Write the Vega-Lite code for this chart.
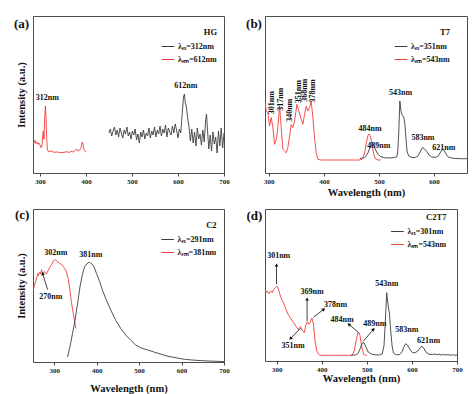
{
"$schema": "https://vega.github.io/schema/vega-lite/v6.json",
"padding": {"left": 13, "top": 15, "right": 0, "bottom": 0},
"background": "white",
"columns": 2,
"spacing": {"row": 36, "column": 41},
"bounds": "flush",
"resolve": {"scale": {"color": "independent"}, "legend": {"color": "independent"}},
"config": {
 "font": "Liberation Serif",
 "view": {"stroke": "#4d4d4d", "strokeWidth": 1},
 "axis": {"grid": false, "domain": false, "labelOverlap": false, "labelFlush": false, "labelFont": "Liberation Serif", "labelFontWeight": "bold", "labelFontSize": 7, "labelColor": "#222", "tickColor": "#444", "tickSize": 3, "labelPadding": 1, "titleFont": "Liberation Serif", "titleFontWeight": "bold", "titleFontSize": 10.5, "titleColor": "#111"},
 "axisY": {"labels": false, "ticks": false},
 "legend": {"orient": "none", "symbolType": "stroke", "symbolSize": 160, "symbolStrokeWidth": 1, "labelFont": "Liberation Serif", "labelFontWeight": "bold", "labelFontSize": 8, "labelColor": "#111", "titleFont": "Liberation Serif", "titleFontWeight": "bold", "titleFontSize": 8.5, "titleColor": "#111", "titleAnchor": "end", "titleAlign": "right", "padding": 0, "rowPadding": 2, "titlePadding": 3, "labelOffset": 3},
 "text": {"font": "Liberation Serif", "fontWeight": "bold", "fontSize": 8, "color": "#111"}
},
"datasets": {
 "aL": [
  {"w":450,"i":40,"s":"λₑₓ=312nm"},{"w":453,"i":44,"s":"λₑₓ=312nm"},{"w":456,"i":37,"s":"λₑₓ=312nm"},{"w":459,"i":42,"s":"λₑₓ=312nm"},{"w":462,"i":46,"s":"λₑₓ=312nm"},{"w":465,"i":38,"s":"λₑₓ=312nm"},{"w":468,"i":43,"s":"λₑₓ=312nm"},{"w":471,"i":36,"s":"λₑₓ=312nm"},{"w":474,"i":45,"s":"λₑₓ=312nm"},{"w":477,"i":40,"s":"λₑₓ=312nm"},{"w":480,"i":35,"s":"λₑₓ=312nm"},{"w":483,"i":43,"s":"λₑₓ=312nm"},{"w":486,"i":39,"s":"λₑₓ=312nm"},{"w":489,"i":46,"s":"λₑₓ=312nm"},{"w":492,"i":37,"s":"λₑₓ=312nm"},{"w":495,"i":41,"s":"λₑₓ=312nm"},{"w":498,"i":34,"s":"λₑₓ=312nm"},{"w":501,"i":42,"s":"λₑₓ=312nm"},{"w":504,"i":38,"s":"λₑₓ=312nm"},{"w":507,"i":44,"s":"λₑₓ=312nm"},{"w":510,"i":33,"s":"λₑₓ=312nm"},{"w":513,"i":39,"s":"λₑₓ=312nm"},{"w":516,"i":30,"s":"λₑₓ=312nm"},{"w":519,"i":41,"s":"λₑₓ=312nm"},{"w":522,"i":36,"s":"λₑₓ=312nm"},{"w":525,"i":43,"s":"λₑₓ=312nm"},{"w":528,"i":34,"s":"λₑₓ=312nm"},{"w":531,"i":40,"s":"λₑₓ=312nm"},{"w":534,"i":37,"s":"λₑₓ=312nm"},{"w":537,"i":45,"s":"λₑₓ=312nm"},{"w":540,"i":35,"s":"λₑₓ=312nm"},{"w":543,"i":42,"s":"λₑₓ=312nm"},{"w":546,"i":38,"s":"λₑₓ=312nm"},{"w":549,"i":46,"s":"λₑₓ=312nm"},{"w":552,"i":36,"s":"λₑₓ=312nm"},{"w":555,"i":43,"s":"λₑₓ=312nm"},{"w":558,"i":39,"s":"λₑₓ=312nm"},{"w":561,"i":47,"s":"λₑₓ=312nm"},{"w":564,"i":37,"s":"λₑₓ=312nm"},{"w":567,"i":44,"s":"λₑₓ=312nm"},{"w":570,"i":40,"s":"λₑₓ=312nm"},{"w":573,"i":48,"s":"λₑₓ=312nm"},{"w":576,"i":36,"s":"λₑₓ=312nm"},{"w":579,"i":45,"s":"λₑₓ=312nm"},{"w":582,"i":41,"s":"λₑₓ=312nm"},{"w":585,"i":38,"s":"λₑₓ=312nm"},{"w":588,"i":47,"s":"λₑₓ=312nm"},{"w":591,"i":40,"s":"λₑₓ=312nm"},{"w":594,"i":49,"s":"λₑₓ=312nm"},{"w":597,"i":43,"s":"λₑₓ=312nm"},{"w":600,"i":35,"s":"λₑₓ=312nm"},{"w":603,"i":44,"s":"λₑₓ=312nm"},{"w":606,"i":40,"s":"λₑₓ=312nm"},{"w":609,"i":58,"s":"λₑₓ=312nm"},{"w":612,"i":76,"s":"λₑₓ=312nm"},{"w":614,"i":79,"s":"λₑₓ=312nm"},{"w":616,"i":70,"s":"λₑₓ=312nm"},{"w":618,"i":67,"s":"λₑₓ=312nm"},{"w":621,"i":55,"s":"λₑₓ=312nm"},{"w":624,"i":46,"s":"λₑₓ=312nm"},{"w":627,"i":32,"s":"λₑₓ=312nm"},{"w":630,"i":44,"s":"λₑₓ=312nm"},{"w":633,"i":30,"s":"λₑₓ=312nm"},{"w":636,"i":41,"s":"λₑₓ=312nm"},{"w":639,"i":27,"s":"λₑₓ=312nm"},{"w":642,"i":45,"s":"λₑₓ=312nm"},{"w":645,"i":34,"s":"λₑₓ=312nm"},{"w":648,"i":39,"s":"λₑₓ=312nm"},{"w":651,"i":28,"s":"λₑₓ=312nm"},{"w":654,"i":43,"s":"λₑₓ=312nm"},{"w":657,"i":31,"s":"λₑₓ=312nm"},{"w":660,"i":52,"s":"λₑₓ=312nm"},{"w":662,"i":59,"s":"λₑₓ=312nm"},{"w":664,"i":44,"s":"λₑₓ=312nm"},{"w":667,"i":24,"s":"λₑₓ=312nm"},{"w":670,"i":38,"s":"λₑₓ=312nm"},{"w":673,"i":22,"s":"λₑₓ=312nm"},{"w":676,"i":41,"s":"λₑₓ=312nm"},{"w":679,"i":29,"s":"λₑₓ=312nm"},{"w":682,"i":36,"s":"λₑₓ=312nm"},{"w":685,"i":20,"s":"λₑₓ=312nm"},{"w":688,"i":42,"s":"λₑₓ=312nm"},{"w":691,"i":27,"s":"λₑₓ=312nm"},{"w":694,"i":45,"s":"λₑₓ=312nm"},{"w":697,"i":25,"s":"λₑₓ=312nm"},{"w":700,"i":40,"s":"λₑₓ=312nm"},
  {"w":285,"i":32,"s":"λₑₘ=612nm"},{"w":287.2,"i":30.3,"s":"λₑₘ=612nm"},{"w":289.3,"i":32.7,"s":"λₑₘ=612nm"},{"w":291.5,"i":29.3,"s":"λₑₘ=612nm"},{"w":293.7,"i":31,"s":"λₑₘ=612nm"},{"w":295.9,"i":28.7,"s":"λₑₘ=612nm"},{"w":298,"i":30,"s":"λₑₘ=612nm"},{"w":300.2,"i":28,"s":"λₑₘ=612nm"},{"w":302.4,"i":25.3,"s":"λₑₘ=612nm"},{"w":304.6,"i":27,"s":"λₑₘ=612nm"},{"w":306,"i":37,"s":"λₑₘ=612nm"},{"w":307.5,"i":42,"s":"λₑₘ=612nm"},{"w":308.9,"i":33.7,"s":"λₑₘ=612nm"},{"w":310.4,"i":55.3,"s":"λₑₘ=612nm"},{"w":311.8,"i":67,"s":"λₑₘ=612nm"},{"w":313.3,"i":55.3,"s":"λₑₘ=612nm"},{"w":314.7,"i":35.3,"s":"λₑₘ=612nm"},{"w":316.2,"i":23.7,"s":"λₑₘ=612nm"},{"w":318.3,"i":21.3,"s":"λₑₘ=612nm"},{"w":323.4,"i":22,"s":"λₑₘ=612nm"},{"w":330.6,"i":20.7,"s":"λₑₘ=612nm"},{"w":337.9,"i":21,"s":"λₑₘ=612nm"},{"w":345.1,"i":20.3,"s":"λₑₘ=612nm"},{"w":352.4,"i":20.7,"s":"λₑₘ=612nm"},{"w":359.6,"i":21.3,"s":"λₑₘ=612nm"},{"w":363.3,"i":20.3,"s":"λₑₘ=612nm"},{"w":366.9,"i":21.7,"s":"λₑₘ=612nm"},{"w":372,"i":21,"s":"λₑₘ=612nm"},{"w":376.3,"i":22.7,"s":"λₑₘ=612nm"},{"w":380,"i":23.7,"s":"λₑₘ=612nm"},{"w":382.9,"i":22,"s":"λₑₘ=612nm"},{"w":386.5,"i":23,"s":"λₑₘ=612nm"},{"w":389.4,"i":25.3,"s":"λₑₘ=612nm"},{"w":391.6,"i":31,"s":"λₑₘ=612nm"},{"w":393.8,"i":28.7,"s":"λₑₘ=612nm"},{"w":396,"i":22.7,"s":"λₑₘ=612nm"},{"w":398.9,"i":21.3,"s":"λₑₘ=612nm"},{"w":401,"i":22,"s":"λₑₘ=612nm"}
 ],
 "aT": [{"w":316,"i":75,"t":"312nm"},{"w":617,"i":87,"t":"612nm"}],
 "bL": [
  {"w":465,"i":14.5,"s":"λₑₓ=351nm"},{"w":472,"i":15,"s":"λₑₓ=351nm"},{"w":476,"i":16.5,"s":"λₑₓ=351nm"},{"w":480,"i":20,"s":"λₑₓ=351nm"},{"w":484,"i":26,"s":"λₑₓ=351nm"},{"w":488,"i":29,"s":"λₑₓ=351nm"},{"w":491,"i":27.5,"s":"λₑₓ=351nm"},{"w":494,"i":23,"s":"λₑₓ=351nm"},{"w":498,"i":19,"s":"λₑₓ=351nm"},{"w":503,"i":16.5,"s":"λₑₓ=351nm"},{"w":510,"i":15.3,"s":"λₑₓ=351nm"},{"w":520,"i":15,"s":"λₑₓ=351nm"},{"w":528,"i":15.5,"s":"λₑₓ=351nm"},{"w":532,"i":16,"s":"λₑₓ=351nm"},{"w":534,"i":20,"s":"λₑₓ=351nm"},{"w":536,"i":40,"s":"λₑₓ=351nm"},{"w":538,"i":72,"s":"λₑₓ=351nm"},{"w":540,"i":62,"s":"λₑₓ=351nm"},{"w":542,"i":58,"s":"λₑₓ=351nm"},{"w":545,"i":56,"s":"λₑₓ=351nm"},{"w":547,"i":50,"s":"λₑₓ=351nm"},{"w":549,"i":35,"s":"λₑₓ=351nm"},{"w":551,"i":22,"s":"λₑₓ=351nm"},{"w":554,"i":17,"s":"λₑₓ=351nm"},{"w":560,"i":15.5,"s":"λₑₓ=351nm"},{"w":566,"i":15.5,"s":"λₑₓ=351nm"},{"w":571,"i":17,"s":"λₑₓ=351nm"},{"w":575,"i":21,"s":"λₑₓ=351nm"},{"w":579,"i":25.5,"s":"λₑₓ=351nm"},{"w":583,"i":24,"s":"λₑₓ=351nm"},{"w":587,"i":21.5,"s":"λₑₓ=351nm"},{"w":591,"i":18,"s":"λₑₓ=351nm"},{"w":596,"i":16,"s":"λₑₓ=351nm"},{"w":602,"i":15.5,"s":"λₑₓ=351nm"},{"w":607,"i":16.5,"s":"λₑₓ=351nm"},{"w":611,"i":20,"s":"λₑₓ=351nm"},{"w":615,"i":23.5,"s":"λₑₓ=351nm"},{"w":618,"i":23,"s":"λₑₓ=351nm"},{"w":622,"i":19,"s":"λₑₓ=351nm"},{"w":626,"i":16,"s":"λₑₓ=351nm"},{"w":632,"i":15,"s":"λₑₓ=351nm"},{"w":640,"i":14.5,"s":"λₑₓ=351nm"},{"w":650,"i":14.3,"s":"λₑₓ=351nm"},{"w":660,"i":14.3,"s":"λₑₓ=351nm"},
  {"w":293,"i":70,"s":"λₑₘ=543nm"},{"w":295.3,"i":62,"s":"λₑₘ=543nm"},{"w":298.2,"i":60.3,"s":"λₑₘ=543nm"},{"w":301.3,"i":47,"s":"λₑₘ=543nm"},{"w":304.4,"i":55.3,"s":"λₑₘ=543nm"},{"w":307.3,"i":45.3,"s":"λₑₘ=543nm"},{"w":310.4,"i":28.7,"s":"λₑₘ=543nm"},{"w":313.5,"i":33.7,"s":"λₑₘ=543nm"},{"w":316.4,"i":45.3,"s":"λₑₘ=543nm"},{"w":319.5,"i":67,"s":"λₑₘ=543nm"},{"w":322.5,"i":45.3,"s":"λₑₘ=543nm"},{"w":325.5,"i":23.7,"s":"λₑₘ=543nm"},{"w":328.5,"i":22,"s":"λₑₘ=543nm"},{"w":331.6,"i":20.3,"s":"λₑₘ=543nm"},{"w":334.5,"i":25.3,"s":"λₑₘ=543nm"},{"w":337.6,"i":37,"s":"λₑₘ=543nm"},{"w":340.7,"i":48.7,"s":"λₑₘ=543nm"},{"w":343.6,"i":45.3,"s":"λₑₘ=543nm"},{"w":346.7,"i":52,"s":"λₑₘ=543nm"},{"w":351,"i":68.7,"s":"λₑₘ=543nm"},{"w":354.5,"i":62,"s":"λₑₘ=543nm"},{"w":358.9,"i":53.7,"s":"λₑₘ=543nm"},{"w":361.8,"i":48.7,"s":"λₑₘ=543nm"},{"w":364.9,"i":58.7,"s":"λₑₘ=543nm"},{"w":368,"i":67,"s":"λₑₘ=543nm"},{"w":370.9,"i":62,"s":"λₑₘ=543nm"},{"w":374,"i":65.3,"s":"λₑₘ=543nm"},{"w":377,"i":72,"s":"λₑₘ=543nm"},{"w":380,"i":55.3,"s":"λₑₘ=543nm"},{"w":383,"i":35.3,"s":"λₑₘ=543nm"},{"w":386,"i":20.3,"s":"λₑₘ=543nm"},{"w":389,"i":13.7,"s":"λₑₘ=543nm"},{"w":395,"i":13,"s":"λₑₘ=543nm"},{"w":430,"i":13,"s":"λₑₘ=543nm"},{"w":465,"i":13,"s":"λₑₘ=543nm"},{"w":470,"i":14,"s":"λₑₘ=543nm"},{"w":474,"i":20,"s":"λₑₘ=543nm"},{"w":477,"i":30,"s":"λₑₘ=543nm"},{"w":480,"i":37.5,"s":"λₑₘ=543nm"},{"w":482,"i":39,"s":"λₑₘ=543nm"},{"w":485,"i":36,"s":"λₑₘ=543nm"},{"w":488,"i":26,"s":"λₑₘ=543nm"},{"w":491,"i":18,"s":"λₑₘ=543nm"},{"w":494,"i":14,"s":"λₑₘ=543nm"},{"w":498,"i":13,"s":"λₑₘ=543nm"},{"w":503,"i":13,"s":"λₑₘ=543nm"}
 ],
 "bV": [{"w":305.8,"i":70.3,"t":"301nm"},{"w":322.5,"i":73.7,"t":"317nm"},{"w":339,"i":62.7,"t":"340nm"},{"w":354.5,"i":81.3,"t":"351nm"},{"w":366.4,"i":82.7,"t":"368nm"},{"w":380.4,"i":82,"t":"378nm"}],
 "bT": [{"w":539.5,"i":80,"t":"543nm"},{"w":484,"i":44,"t":"484nm"},{"w":500,"i":27,"t":"489nm"},{"w":580,"i":35,"t":"583nm"},{"w":618,"i":25,"t":"621nm"}],
 "cL": [
  {"w":250.7,"i":71.7,"s":"λₑₘ=381nm"},{"w":253,"i":76,"s":"λₑₘ=381nm"},{"w":255,"i":79,"s":"λₑₘ=381nm"},{"w":257,"i":81.7,"s":"λₑₘ=381nm"},{"w":259,"i":84,"s":"λₑₘ=381nm"},{"w":261,"i":88.4,"s":"λₑₘ=381nm"},{"w":263,"i":86.5,"s":"λₑₘ=381nm"},{"w":265,"i":89,"s":"λₑₘ=381nm"},{"w":266.5,"i":90,"s":"λₑₘ=381nm"},{"w":268,"i":88,"s":"λₑₘ=381nm"},{"w":270,"i":92.4,"s":"λₑₘ=381nm"},{"w":272,"i":89,"s":"λₑₘ=381nm"},{"w":274,"i":88.4,"s":"λₑₘ=381nm"},{"w":276,"i":90.5,"s":"λₑₘ=381nm"},{"w":278,"i":90,"s":"λₑₘ=381nm"},{"w":280,"i":88.4,"s":"λₑₘ=381nm"},{"w":282,"i":88.4,"s":"λₑₘ=381nm"},{"w":284,"i":90,"s":"λₑₘ=381nm"},{"w":286,"i":91.7,"s":"λₑₘ=381nm"},{"w":290,"i":95,"s":"λₑₘ=381nm"},{"w":294,"i":97.7,"s":"λₑₘ=381nm"},{"w":298,"i":101,"s":"λₑₘ=381nm"},{"w":302,"i":102.7,"s":"λₑₘ=381nm"},{"w":305.6,"i":101,"s":"λₑₘ=381nm"},{"w":309.5,"i":99.7,"s":"λₑₘ=381nm"},{"w":313.5,"i":98.4,"s":"λₑₘ=381nm"},{"w":317,"i":97.7,"s":"λₑₘ=381nm"},{"w":321,"i":95.7,"s":"λₑₘ=381nm"},{"w":325,"i":93.4,"s":"λₑₘ=381nm"},{"w":329,"i":90,"s":"λₑₘ=381nm"},{"w":333,"i":83.4,"s":"λₑₘ=381nm"},{"w":337,"i":71.7,"s":"λₑₘ=381nm"},{"w":341,"i":58.4,"s":"λₑₘ=381nm"},{"w":345,"i":48.4,"s":"λₑₘ=381nm"},{"w":349,"i":38.4,"s":"λₑₘ=381nm"},{"w":351,"i":33.4,"s":"λₑₘ=381nm"},
  {"w":331.4,"i":5,"s":"λₑₓ=291nm"},{"w":337,"i":15,"s":"λₑₓ=291nm"},{"w":343,"i":28.4,"s":"λₑₓ=291nm"},{"w":349,"i":41.7,"s":"λₑₓ=291nm"},{"w":355,"i":58.4,"s":"λₑₓ=291nm"},{"w":360.6,"i":75,"s":"λₑₓ=291nm"},{"w":366.8,"i":88.4,"s":"λₑₓ=291nm"},{"w":372,"i":95.7,"s":"λₑₓ=291nm"},{"w":378.5,"i":99,"s":"λₑₓ=291nm"},{"w":382.5,"i":99.7,"s":"λₑₓ=291nm"},{"w":385,"i":99,"s":"λₑₓ=291nm"},{"w":388,"i":98.4,"s":"λₑₓ=291nm"},{"w":394,"i":95,"s":"λₑₓ=291nm"},{"w":399.7,"i":88.4,"s":"λₑₓ=291nm"},{"w":406,"i":81.7,"s":"λₑₓ=291nm"},{"w":413.8,"i":71.7,"s":"λₑₓ=291nm"},{"w":423,"i":61.7,"s":"λₑₓ=291nm"},{"w":433.5,"i":51.7,"s":"λₑₓ=291nm"},{"w":445,"i":41.7,"s":"λₑₓ=291nm"},{"w":457,"i":33.4,"s":"λₑₓ=291nm"},{"w":469,"i":26.7,"s":"λₑₓ=291nm"},{"w":480.6,"i":21.7,"s":"λₑₓ=291nm"},{"w":492,"i":17,"s":"λₑₓ=291nm"},{"w":505,"i":14,"s":"λₑₓ=291nm"},{"w":520,"i":12,"s":"λₑₓ=291nm"},{"w":535,"i":10,"s":"λₑₓ=291nm"},{"w":550,"i":8,"s":"λₑₓ=291nm"},{"w":568,"i":5.7,"s":"λₑₓ=291nm"},{"w":590,"i":4,"s":"λₑₓ=291nm"},{"w":607,"i":2.7,"s":"λₑₓ=291nm"},{"w":630,"i":1.8,"s":"λₑₓ=291nm"},{"w":650,"i":1.3,"s":"λₑₓ=291nm"},{"w":675,"i":0.8,"s":"λₑₓ=291nm"},{"w":700,"i":0.4,"s":"λₑₓ=291nm"}
 ],
 "cT": [{"w":304,"i":109,"t":"302nm"},{"w":386.5,"i":106.7,"t":"381nm"},{"w":292,"i":65,"t":"270nm"}],
 "cA": [{"w":284.4,"i":72.4,"w2":272.6,"i2":88.4,"ang":343}],
 "dL": [
  {"w":274.4,"i":70,"s":"λₑₘ=543nm"},{"w":276,"i":68.3,"s":"λₑₘ=543nm"},{"w":279,"i":70,"s":"λₑₘ=543nm"},{"w":281,"i":68,"s":"λₑₘ=543nm"},{"w":283,"i":67.3,"s":"λₑₘ=543nm"},{"w":285,"i":69.5,"s":"λₑₘ=543nm"},{"w":287,"i":70,"s":"λₑₘ=543nm"},{"w":290,"i":68.3,"s":"λₑₘ=543nm"},{"w":293,"i":71.7,"s":"λₑₘ=543nm"},{"w":297,"i":73.3,"s":"λₑₘ=543nm"},{"w":300,"i":75,"s":"λₑₘ=543nm"},{"w":302,"i":74,"s":"λₑₘ=543nm"},{"w":304,"i":71.7,"s":"λₑₘ=543nm"},{"w":307,"i":66.7,"s":"λₑₘ=543nm"},{"w":311,"i":61.7,"s":"λₑₘ=543nm"},{"w":315,"i":58.3,"s":"λₑₘ=543nm"},{"w":319,"i":53.3,"s":"λₑₘ=543nm"},{"w":322,"i":50,"s":"λₑₘ=543nm"},{"w":326,"i":46,"s":"λₑₘ=543nm"},{"w":330,"i":43.3,"s":"λₑₘ=543nm"},{"w":337,"i":38.3,"s":"λₑₘ=543nm"},{"w":344,"i":34,"s":"λₑₘ=543nm"},{"w":348,"i":31.5,"s":"λₑₘ=543nm"},{"w":351,"i":33.5,"s":"λₑₘ=543nm"},{"w":353,"i":34.5,"s":"λₑₘ=543nm"},{"w":356,"i":31,"s":"λₑₘ=543nm"},{"w":358,"i":30,"s":"λₑₘ=543nm"},{"w":361,"i":28.3,"s":"λₑₘ=543nm"},{"w":365,"i":36.7,"s":"λₑₘ=543nm"},{"w":368,"i":39.3,"s":"λₑₘ=543nm"},{"w":371,"i":36.7,"s":"λₑₘ=543nm"},{"w":374,"i":38,"s":"λₑₘ=543nm"},{"w":376,"i":41,"s":"λₑₘ=543nm"},{"w":378,"i":42.7,"s":"λₑₘ=543nm"},{"w":380,"i":40,"s":"λₑₘ=543nm"},{"w":382,"i":35,"s":"λₑₘ=543nm"},{"w":385,"i":20,"s":"λₑₘ=543nm"},{"w":389,"i":10,"s":"λₑₘ=543nm"},{"w":393,"i":6.7,"s":"λₑₘ=543nm"},{"w":396,"i":5.7,"s":"λₑₘ=543nm"},{"w":430,"i":5.7,"s":"λₑₘ=543nm"},{"w":467,"i":5.7,"s":"λₑₘ=543nm"},{"w":472,"i":10,"s":"λₑₘ=543nm"},{"w":476,"i":20,"s":"λₑₘ=543nm"},{"w":479,"i":26,"s":"λₑₘ=543nm"},{"w":481,"i":28.3,"s":"λₑₘ=543nm"},{"w":483,"i":28,"s":"λₑₘ=543nm"},{"w":485,"i":25,"s":"λₑₘ=543nm"},{"w":487,"i":19,"s":"λₑₘ=543nm"},{"w":489,"i":13.3,"s":"λₑₘ=543nm"},{"w":493,"i":6.5,"s":"λₑₘ=543nm"},{"w":497,"i":5.7,"s":"λₑₘ=543nm"},{"w":500,"i":5.7,"s":"λₑₘ=543nm"},
  {"w":465,"i":5.7,"s":"λₑₓ=301nm"},{"w":475,"i":6,"s":"λₑₓ=301nm"},{"w":480,"i":7.5,"s":"λₑₓ=301nm"},{"w":484,"i":11,"s":"λₑₓ=301nm"},{"w":488,"i":16,"s":"λₑₓ=301nm"},{"w":491,"i":18.5,"s":"λₑₓ=301nm"},{"w":494,"i":18,"s":"λₑₓ=301nm"},{"w":498,"i":14,"s":"λₑₓ=301nm"},{"w":503,"i":9,"s":"λₑₓ=301nm"},{"w":510,"i":7,"s":"λₑₓ=301nm"},{"w":518,"i":6.2,"s":"λₑₓ=301nm"},{"w":528,"i":6,"s":"λₑₓ=301nm"},{"w":534,"i":7,"s":"λₑₓ=301nm"},{"w":538,"i":15,"s":"λₑₓ=301nm"},{"w":541,"i":40,"s":"λₑₓ=301nm"},{"w":544,"i":68.3,"s":"λₑₓ=301nm"},{"w":546,"i":60,"s":"λₑₓ=301nm"},{"w":548,"i":53,"s":"λₑₓ=301nm"},{"w":550,"i":48,"s":"λₑₓ=301nm"},{"w":553,"i":30,"s":"λₑₓ=301nm"},{"w":556,"i":15,"s":"λₑₓ=301nm"},{"w":559,"i":8,"s":"λₑₓ=301nm"},{"w":565,"i":6.2,"s":"λₑₓ=301nm"},{"w":572,"i":6.5,"s":"λₑₓ=301nm"},{"w":578,"i":9,"s":"λₑₓ=301nm"},{"w":582,"i":14,"s":"λₑₓ=301nm"},{"w":586,"i":17.3,"s":"λₑₓ=301nm"},{"w":590,"i":16,"s":"λₑₓ=301nm"},{"w":595,"i":12,"s":"λₑₓ=301nm"},{"w":601,"i":8.3,"s":"λₑₓ=301nm"},{"w":607,"i":8.3,"s":"λₑₓ=301nm"},{"w":613,"i":10,"s":"λₑₓ=301nm"},{"w":618,"i":13,"s":"λₑₓ=301nm"},{"w":622,"i":15,"s":"λₑₓ=301nm"},{"w":626,"i":13,"s":"λₑₓ=301nm"},{"w":631,"i":9,"s":"λₑₓ=301nm"},{"w":637,"i":7,"s":"λₑₓ=301nm"},{"w":645,"i":6.5,"s":"λₑₓ=301nm"},{"w":650,"i":7,"s":"λₑₓ=301nm"},{"w":655,"i":6.2,"s":"λₑₓ=301nm"},{"w":660,"i":6.8,"s":"λₑₓ=301nm"},{"w":665,"i":6,"s":"λₑₓ=301nm"},{"w":670,"i":6.6,"s":"λₑₓ=301nm"},{"w":675,"i":5.9,"s":"λₑₓ=301nm"},{"w":680,"i":6.4,"s":"λₑₓ=301nm"},{"w":685,"i":5.8,"s":"λₑₓ=301nm"},{"w":690,"i":6.3,"s":"λₑₓ=301nm"},{"w":695,"i":5.7,"s":"λₑₓ=301nm"},{"w":700,"i":6,"s":"λₑₓ=301nm"}
 ],
 "dT": [{"w":304.4,"i":105,"t":"301nm"},{"w":378.4,"i":69.3,"t":"369nm"},{"w":430.4,"i":56,"t":"378nm"},{"w":336.3,"i":15,"t":"351nm"},{"w":445,"i":40.7,"t":"484nm"},{"w":517.8,"i":36.7,"t":"489nm"},{"w":544.4,"i":76.7,"t":"543nm"},{"w":588.9,"i":30.7,"t":"583nm"},{"w":637,"i":20,"t":"621nm"}],
 "dA": [{"w":299.5,"i":77,"w2":299.5,"i2":96,"ang":0},{"w":367.4,"i":40,"w2":367.4,"i2":62,"ang":0},{"w":382,"i":44,"w2":404.4,"i2":51.7,"ang":52},{"w":352.6,"i":32.7,"w2":330.4,"i2":22.3,"ang":224},{"w":482,"i":28.3,"w2":460,"i2":36.7,"ang":310},{"w":492.6,"i":20,"w2":514.8,"i2":31.7,"ang":40}]
},
"concat": [
 {"width": 191, "height": 157, "layer": [
  {"data": {"name": "aL"}, "mark": {"type": "line", "strokeWidth": 0.9, "clip": true},
   "encoding": {
    "x": {"field": "w", "type": "quantitative", "scale": {"domain": [285, 700], "nice": false, "zero": false}, "axis": {"values": [300,350,400,450,500,550,600,650,700], "labelExpr": "datum.value % 100 === 0 ? datum.label : ''", "title": null}},
    "y": {"field": "i", "type": "quantitative", "scale": {"domain": [0, 157], "nice": false}, "axis": {"title": "Intensity (a.u.)", "titlePadding": 7}},
    "color": {"field": "s", "type": "nominal", "scale": {"domain": ["λₑₓ=312nm", "λₑₘ=612nm"], "range": ["#3d3d3d", "#f23c3c"]}, "legend": {"title": "HG", "legendX": 128, "legendY": 12}}
   }},
  {"data": {"name": "aT"}, "mark": {"type": "text"}, "encoding": {"x": {"field": "w", "type": "quantitative"}, "y": {"field": "i", "type": "quantitative"}, "text": {"field": "t"}}},
  {"data": {"values": [{"w": 260, "i": 149, "t": "(a)"}]}, "mark": {"type": "text", "fontSize": 13}, "encoding": {"x": {"field": "w", "type": "quantitative"}, "y": {"field": "i", "type": "quantitative"}, "text": {"field": "t"}}}
 ]},
 {"width": 202, "height": 157, "layer": [
  {"data": {"name": "bL"}, "mark": {"type": "line", "strokeWidth": 0.9, "clip": true},
   "encoding": {
    "x": {"field": "w", "type": "quantitative", "scale": {"domain": [293, 660], "nice": false, "zero": false}, "axis": {"values": [300,350,400,450,500,550,600,650], "labelExpr": "datum.value % 100 === 0 ? datum.label : ''", "title": "Wavelength (nm)", "titlePadding": 3}},
    "y": {"field": "i", "type": "quantitative", "scale": {"domain": [0, 157], "nice": false}, "axis": null},
    "color": {"field": "s", "type": "nominal", "scale": {"domain": ["λₑₓ=351nm", "λₑₘ=543nm"], "range": ["#3d3d3d", "#f23c3c"]}, "legend": {"title": "T7", "legendX": 129, "legendY": 12}}
   }},
  {"data": {"name": "bV"}, "mark": {"type": "text", "angle": 270}, "encoding": {"x": {"field": "w", "type": "quantitative"}, "y": {"field": "i", "type": "quantitative"}, "text": {"field": "t"}}},
  {"data": {"name": "bT"}, "mark": {"type": "text"}, "encoding": {"x": {"field": "w", "type": "quantitative"}, "y": {"field": "i", "type": "quantitative"}, "text": {"field": "t"}}},
  {"data": {"values": [{"w": 273, "i": 149, "t": "(b)"}]}, "mark": {"type": "text", "fontSize": 13}, "encoding": {"x": {"field": "w", "type": "quantitative"}, "y": {"field": "i", "type": "quantitative"}, "text": {"field": "t"}}}
 ]},
 {"width": 191, "height": 153, "layer": [
  {"data": {"name": "cL"}, "mark": {"type": "line", "strokeWidth": 0.9, "clip": true},
   "encoding": {
    "x": {"field": "w", "type": "quantitative", "scale": {"domain": [250, 700], "nice": false, "zero": false}, "axis": {"values": [300,350,400,450,500,550,600,650,700], "labelExpr": "datum.value % 100 === 0 ? datum.label : ''", "title": "Wavelength (nm)", "titlePadding": 10}},
    "y": {"field": "i", "type": "quantitative", "scale": {"domain": [0, 153], "nice": false}, "axis": {"title": "Intensity (a.u.)", "titlePadding": 7}},
    "color": {"field": "s", "type": "nominal", "scale": {"domain": ["λₑₓ=291nm", "λₑₘ=381nm"], "range": ["#3d3d3d", "#f23c3c"]}, "legend": {"title": "C2", "legendX": 127.6, "legendY": 12}}
   }},
  {"data": {"name": "cT"}, "mark": {"type": "text"}, "encoding": {"x": {"field": "w", "type": "quantitative", "axis": {"values": [300,350,400,450,500,550,600,650,700], "labelExpr": "datum.value % 100 === 0 ? datum.label : ''", "title": "Wavelength (nm)", "titlePadding": 10}}, "y": {"field": "i", "type": "quantitative"}, "text": {"field": "t"}}},
  {"data": {"name": "cA"}, "mark": {"type": "rule", "strokeWidth": 0.8, "color": "#111"}, "encoding": {"x": {"field": "w", "type": "quantitative"}, "y": {"field": "i", "type": "quantitative"}, "x2": {"field": "w2"}, "y2": {"field": "i2"}}},
  {"data": {"name": "cA"}, "mark": {"type": "point", "shape": "triangle-up", "filled": true, "size": 14, "color": "#111", "opacity": 1}, "encoding": {"x": {"field": "w2", "type": "quantitative"}, "y": {"field": "i2", "type": "quantitative"}, "angle": {"field": "ang", "type": "quantitative", "scale": null}}},
  {"data": {"values": [{"w": 224.4, "i": 146.7, "t": "(c)"}]}, "mark": {"type": "text", "fontSize": 13}, "encoding": {"x": {"field": "w", "type": "quantitative"}, "y": {"field": "i", "type": "quantitative"}, "text": {"field": "t"}}}
 ]},
 {"width": 192, "height": 152, "layer": [
  {"data": {"name": "dL"}, "mark": {"type": "line", "strokeWidth": 0.9, "clip": true},
   "encoding": {
    "x": {"field": "w", "type": "quantitative", "scale": {"domain": [274, 700], "nice": false, "zero": false}, "axis": {"values": [300,350,400,450,500,550,600,650,700], "labelExpr": "datum.value % 100 === 0 ? datum.label : ''", "title": "Wavelength (nm)", "titlePadding": 1}},
    "y": {"field": "i", "type": "quantitative", "scale": {"domain": [0, 152], "nice": false}, "axis": null},
    "color": {"field": "s", "type": "nominal", "scale": {"domain": ["λₑₓ=301nm", "λₑₘ=543nm"], "range": ["#3d3d3d", "#f23c3c"]}, "legend": {"title": "C2T7", "legendX": 125.4, "legendY": 4}}
   }},
  {"data": {"name": "dT"}, "mark": {"type": "text"}, "encoding": {"x": {"field": "w", "type": "quantitative"}, "y": {"field": "i", "type": "quantitative"}, "text": {"field": "t"}}},
  {"data": {"name": "dA"}, "mark": {"type": "rule", "strokeWidth": 0.8, "color": "#111"}, "encoding": {"x": {"field": "w", "type": "quantitative"}, "y": {"field": "i", "type": "quantitative"}, "x2": {"field": "w2"}, "y2": {"field": "i2"}}},
  {"data": {"name": "dA"}, "mark": {"type": "point", "shape": "triangle-up", "filled": true, "size": 14, "color": "#111", "opacity": 1}, "encoding": {"x": {"field": "w2", "type": "quantitative"}, "y": {"field": "i2", "type": "quantitative"}, "angle": {"field": "ang", "type": "quantitative", "scale": null}}},
  {"data": {"values": [{"w": 250.4, "i": 145, "t": "(d)"}]}, "mark": {"type": "text", "fontSize": 13}, "encoding": {"x": {"field": "w", "type": "quantitative"}, "y": {"field": "i", "type": "quantitative"}, "text": {"field": "t"}}}
 ]}
]
}
